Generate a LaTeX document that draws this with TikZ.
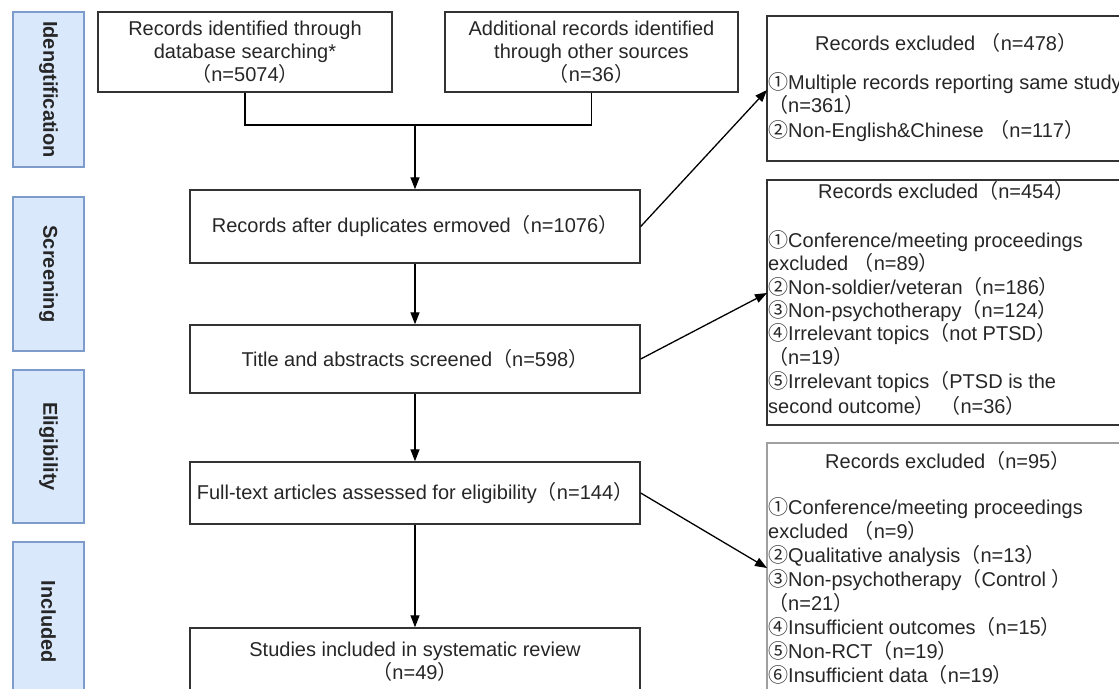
\documentclass[tikz,border=0pt]{standalone}
\usepackage{fontspec}
\setmainfont{Liberation Sans}
\newfontfamily\cjk{Noto Sans CJK SC}
\usetikzlibrary{arrows.meta}
\definecolor{sidefill}{HTML}{DAE8FC}
\definecolor{sideline}{HTML}{7E9CCB}
\definecolor{boxline}{HTML}{333333}
\definecolor{lightline}{HTML}{A0A0A0}
\newcommand\LP{{\cjk （}}
\newcommand\RP{{\cjk ）}}
\newcommand\Cn[1]{{\cjk #1}}
\begin{document}
\begin{tikzpicture}[x=1pt,y=-1pt,
  every node/.style={font=\fontsize{20}{23}\selectfont, text=black!85},
  box/.style={draw=boxline, line width=1.4pt, align=center, inner sep=1pt},
  side/.style={draw=sideline, fill=sidefill, line width=1.2pt, rotate=-90,
    minimum height=71pt, font=\fontsize{20}{23}\selectfont\bfseries},
  rbox/.style={draw=boxline, line width=1.4pt, minimum width=363pt},
  rt/.style={anchor=base west, inner sep=0pt},
  arr/.style={-{Triangle[length=12pt,width=9pt]}, line width=1.3pt, draw=black},
  conn/.style={line width=1.3pt, draw=black}]
\useasboundingbox (0,0) rectangle (1119,688);

% side labels
\node[side, minimum width=155pt] (s1) at (48.5,89.5) {Idengtification};
\node[side, minimum width=154pt] (s2) at (48.5,274) {Screening};
\node[side, minimum width=153pt] (s3) at (48.5,446.5) {Eligibility};
\node[side, minimum width=160pt] (s4) at (48.5,622) {Included};

% main boxes
\node[box, minimum width=294pt, minimum height=80pt] (A) at (245,52)
  {Records identified through\\database searching*\\\LP n=5074\RP};
\node[box, minimum width=293pt, minimum height=80pt] (B) at (591.5,52)
  {Additional records identified\\through other sources\\\LP n=36\RP};
\node[box, minimum width=450pt, minimum height=73pt] (C) at (415,226.5)
  {Records after duplicates ermoved\LP n=1076\RP};
\node[box, minimum width=450pt, minimum height=68pt] (D) at (415,359)
  {Title and abstracts screened\LP n=598\RP};
\node[box, minimum width=450pt, minimum height=62pt] (E) at (415,493)
  {Full-text articles assessed for eligibility\LP n=144\RP};
\node[box, minimum width=450pt, minimum height=68pt] (F) at (415,662)
  {Studies included in systematic review\\\LP n=49\RP};

% right boxes
\node[rbox, minimum height=145pt] (R1) at (948.5,88.5) {};
\node[rbox, minimum height=245pt] (R2) at (948.5,302.5) {};
\node[rbox, draw=lightline, minimum height=262pt] (R3) at (948.5,574) {};

% R1 text
\node[rt] (r1t) at (815,50) {Records excluded \LP n=478\RP};
\node[rt] (r1a) at (768,89) {\Cn{①}Multiple records reporting same study};
\node[rt] (r1b) at (768,112) {\LP n=361\RP};
\node[rt] (r1c) at (768,137) {\Cn{②}Non-English\&Chinese \LP n=117\RP};

% R2 text
\node[rt] (r2t) at (818,198) {Records excluded\LP n=454\RP};
\node[rt] (r2a) at (768,247) {\Cn{①}Conference/meeting proceedings};
\node[rt] (r2b) at (768,270) {excluded \LP n=89\RP};
\node[rt] (r2c) at (768,294) {\Cn{②}Non-soldier/veteran\LP n=186\RP};
\node[rt] (r2d) at (768,317) {\Cn{③}Non-psychotherapy\LP n=124\RP};
\node[rt] (r2e) at (768,340) {\Cn{④}Irrelevant topics\LP not PTSD\RP};
\node[rt] (r2f) at (768,364) {\LP n=19\RP};
\node[rt] (r2g) at (768,388) {\Cn{⑤}Irrelevant topics\LP PTSD is the};
\node[rt] (r2h) at (768,413) {second outcome\RP\ \LP n=36\RP};

% R3 text
\node[rt] (r3t) at (825,468) {Records excluded\LP n=95\RP};
\node[rt] (r3a) at (768,514) {\Cn{①}Conference/meeting proceedings};
\node[rt] (r3b) at (768,538) {excluded \LP n=9\RP};
\node[rt] (r3c) at (768,562) {\Cn{②}Qualitative analysis\LP n=13\RP};
\node[rt] (r3d) at (768,586) {\Cn{③}Non-psychotherapy\LP Control \RP};
\node[rt] (r3e) at (768,610) {\LP n=21\RP};
\node[rt] (r3f) at (768,634) {\Cn{④}Insufficient outcomes\LP n=15\RP};
\node[rt] (r3g) at (768,658) {\Cn{⑤}Non-RCT\LP n=19\RP};
\node[rt] (r3h) at (768,682) {\Cn{⑥}Insufficient data\LP n=19\RP};

% connectors
\coordinate (J) at (415,125);
\draw[conn] (A.south) -- (A.south |- J) -- (B.south |- J) -- (B.south);
\draw[arr] (J) -- (C.north);
\draw[arr] (C.south) -- (D.north);
\draw[arr] (D.south) -- (E.north);
\draw[arr] (E.south) -- (F.north);

\coordinate (t1) at (767,90);
\coordinate (t2) at (767,293);
\coordinate (t3) at (767,568);
\draw[arr] (C.east) -- (t1);
\draw[arr] (D.east) -- (t2);
\draw[arr] (E.east) -- (t3);
\end{tikzpicture}
\end{document}
